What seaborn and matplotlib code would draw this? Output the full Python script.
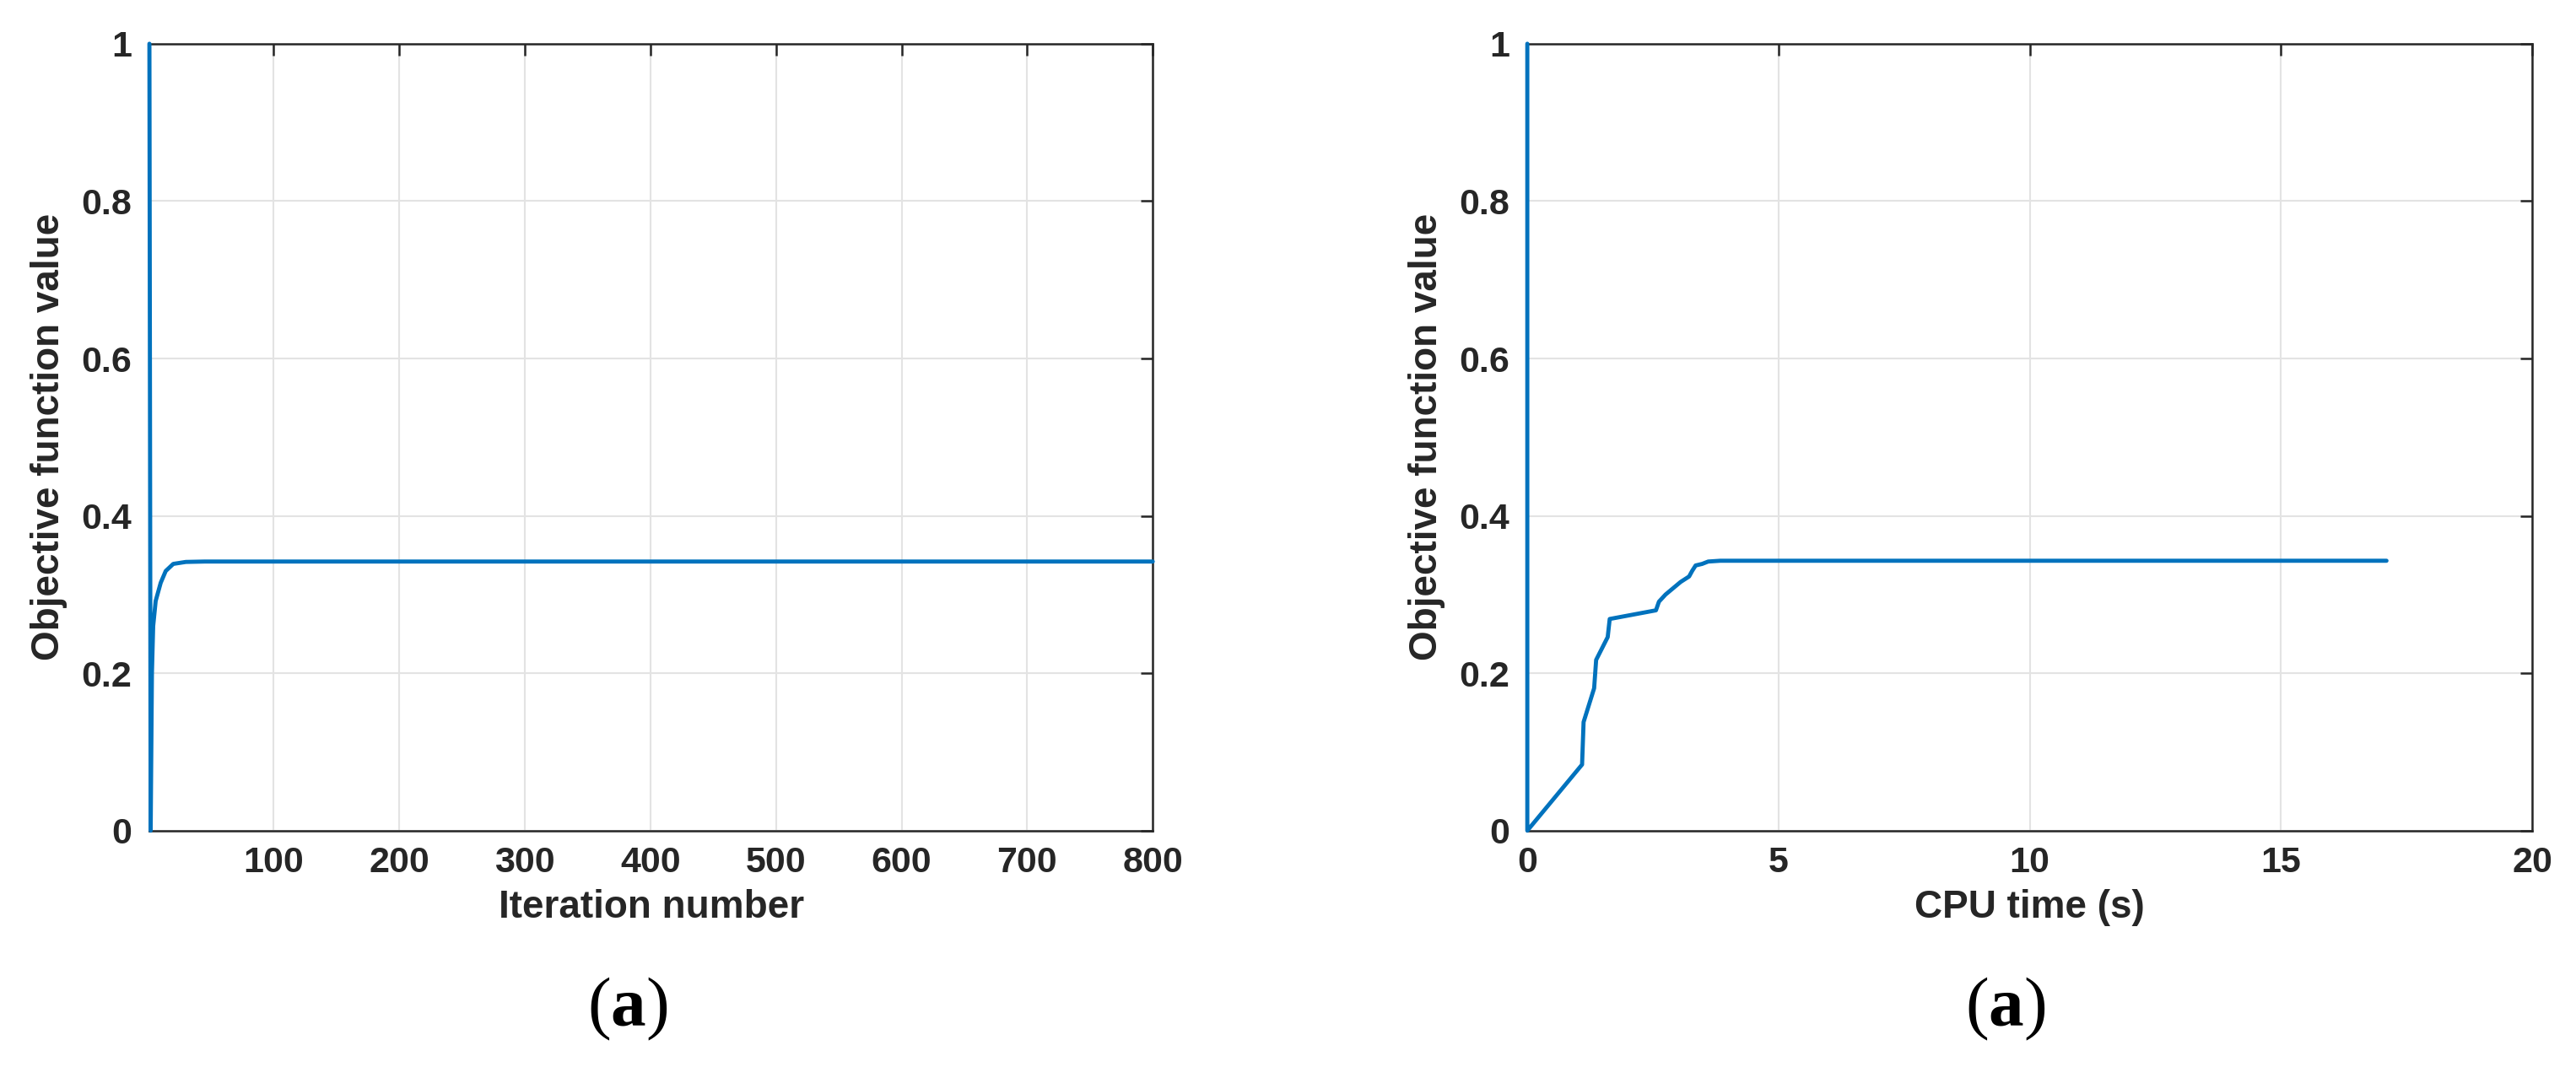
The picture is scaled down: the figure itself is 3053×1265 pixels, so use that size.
"""
Convergence of the objective function: per iteration (left) and per CPU time (right).
"""

import numpy as np
import pandas as pd
import matplotlib
matplotlib.use("Agg")
import matplotlib.pyplot as plt
from matplotlib.ticker import FuncFormatter
import seaborn as sns


# Left panel: objective value vs iteration number
iterations = [1, 2, 3, 4, 6, 10, 14, 20, 30, 45, 800]
iter_values = [1.0, 0.0, 0.2, 0.26, 0.292, 0.315, 0.33, 0.339, 0.3415, 0.342, 0.342]

# Right panel: objective value vs CPU time (s)
cpu_time = [0.0, 0.0, 1.09, 1.12, 1.33, 1.37, 1.60, 1.64, 2.56, 2.62, 2.75,
            3.05, 3.22, 3.28, 3.35, 3.48, 3.60, 3.84, 17.1]
cpu_values = [1.0, 0.0, 0.084, 0.138, 0.181, 0.217, 0.246, 0.269, 0.280, 0.291, 0.300,
              0.316, 0.323, 0.330, 0.337, 0.339, 0.342, 0.343, 0.343]

y_ticks = [0, 0.2, 0.4, 0.6, 0.8, 1.0]
left_xticks = [100, 200, 300, 400, 500, 600, 700, 800]
right_xticks = [0, 5, 10, 15, 20]

LINE_COLOR = "#0072BD"
TEXT_COLOR = "#262626"

sns.set_theme(style="whitegrid")
plt.rcParams["font.family"] = ["Liberation Sans", "DejaVu Sans"]
plt.rcParams["mathtext.fontset"] = "custom"
plt.rcParams["mathtext.bf"] = "Liberation Serif:bold"
plt.rcParams["mathtext.rm"] = "Liberation Serif"

fig = plt.figure(figsize=(30.53, 12.65), dpi=100)
ax_l = fig.add_axes([0.058, 0.2215, 0.3895, 0.7375])
ax_r = fig.add_axes([0.5929, 0.2215, 0.3901, 0.7375])


def style_axes(ax, xlabel, xlim, xticks):
    ax.set_xlim(*xlim)
    ax.set_ylim(0, 1)
    ax.set_xticks(xticks)
    ax.set_yticks(y_ticks)
    ax.yaxis.set_major_formatter(FuncFormatter(lambda v, _: f"{v:g}"))
    ax.grid(True, color="#e3e3e3", linewidth=1.5)
    for spine in ax.spines.values():
        spine.set_color(TEXT_COLOR)
        spine.set_linewidth(1.8)
    ax.tick_params(direction="in", length=10, width=1.8, color=TEXT_COLOR,
                   top=True, right=True, labelsize=31, labelcolor=TEXT_COLOR)
    ax.tick_params(axis="x", pad=13)
    ax.tick_params(axis="y", pad=15)
    for lab in ax.get_xticklabels() + ax.get_yticklabels():
        lab.set_fontweight("bold")
    ax.set_xlabel(xlabel, fontsize=33, fontweight="bold", color=TEXT_COLOR, labelpad=8)
    ax.set_ylabel("Objective function value", fontsize=33, fontweight="bold",
                  color=TEXT_COLOR, labelpad=12)
    # the curve starts on the left spine, draw it on top like the original
    for line in ax.get_lines():
        line.set_clip_on(False)
        line.set_zorder(3)


df_iter = pd.DataFrame({"iteration": iterations, "value": iter_values})
sns.lineplot(data=df_iter, x="iteration", y="value", ax=ax_l, color=LINE_COLOR,
             linewidth=3.5, estimator=None, sort=False)
style_axes(ax_l, "Iteration number", (1, 800), left_xticks)

df_cpu = pd.DataFrame({"time": cpu_time, "value": cpu_values})
sns.lineplot(data=df_cpu, x="time", y="value", ax=ax_r, color=LINE_COLOR,
             linewidth=3.5, estimator=None, sort=False)
style_axes(ax_r, "CPU time (s)", (0, 20), right_xticks)

# Panel captions
for xc in (0.2435, 0.7786):
    fig.text(xc, 0.054, r"($\mathbf{a}$)", ha="center", va="center", fontsize=60,
             family="Liberation Serif", color="black")

fig.savefig("out.png", dpi=100)
plt.close(fig)
